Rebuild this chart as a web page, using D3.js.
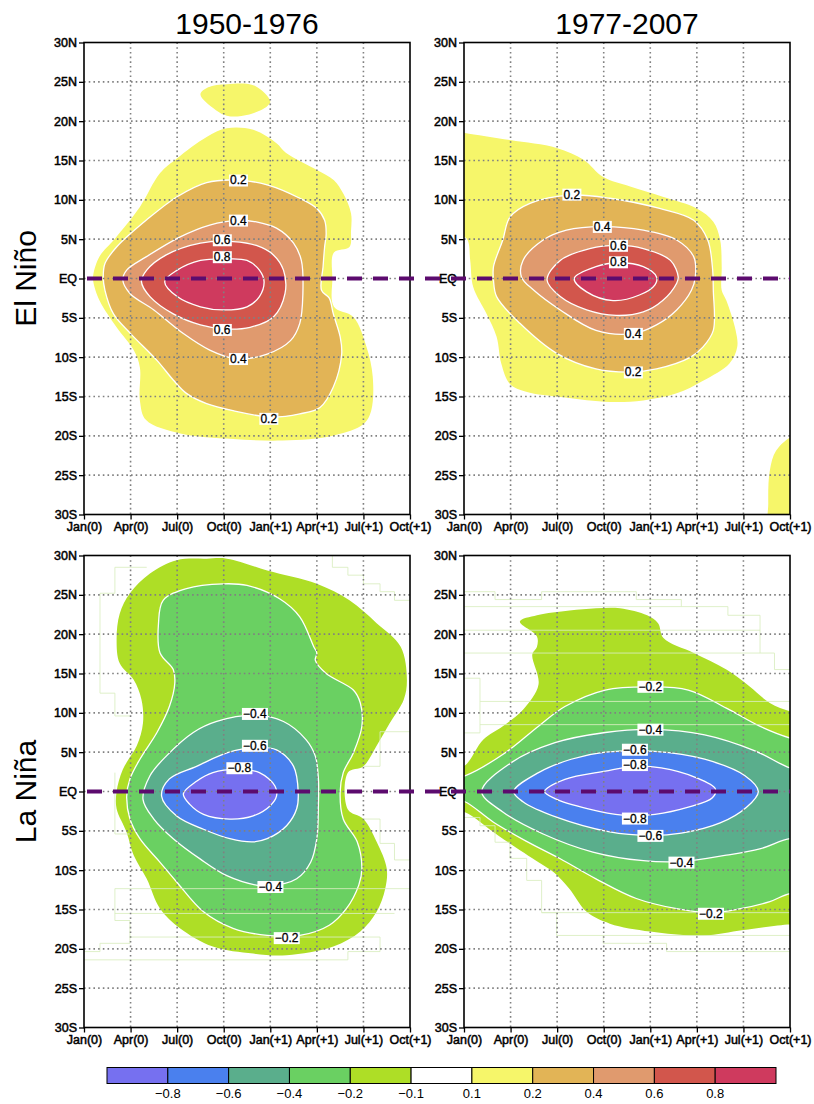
<!DOCTYPE html>
<html>
<head>
<meta charset="utf-8">
<script src="https://cdn.jsdelivr.net/npm/d3@7"></script>
<style>
  body { margin: 0; background: #fff; }
  svg { display: block; font-family: "Liberation Sans", Arial, sans-serif; }
</style>
</head>
<body>
<svg id="chart" width="814" height="1104"></svg>
<script>
// axes
const monthTicks = [0, 3, 6, 9, 12, 15, 18, 21];
const monthLabels = ["Jan(0)", "Apr(0)", "Jul(0)", "Oct(0)", "Jan(+1)", "Apr(+1)", "Jul(+1)", "Oct(+1)"];
const latTicks = [30, 25, 20, 15, 10, 5, 0, -5, -10, -15, -20, -25, -30];

// shading levels and colours
const levels = [-0.8, -0.6, -0.4, -0.2, -0.1, 0.1, 0.2, 0.4, 0.6, 0.8];
const shadeColors = ["#7670f0", "#4a80ee", "#5aae8c", "#6ad062", "#aede26", "#ffffff",
                     "#f6f66a", "#e2b456", "#e09a6e", "#d2564c", "#cf3a5e"];

// contour outlines, [month since Jan(0), latitude]
// El Nino 1950-1976
const tl01 = [[9.2,19.1],[10.9,18.9],[12.4,17.2],[13.0,16.0],[15.0,13.8],[16.1,12.5],[16.7,10.8],[17.2,8.3],
  [17.2,6.0],[17.1,4.0],[16.1,3.3],[16.0,0],[16.1,-3.6],[17.35,-4.9],[18.2,-8.7],[18.6,-12.5],[18.5,-16.8],
  [18.0,-18.5],[16.1,-19.95],[12.8,-20.6],[9.6,-20.4],[6.2,-19.7],[4.0,-18.0],[3.6,-15.5],[3.6,-11.3],[3.2,-9.1],
  [2.1,-6.2],[1.0,-2.8],[0.6,-0.4],[0.6,0.5],[1.0,2.8],[2.0,5.1],[3.6,9.1],[4.9,13.4],[6.0,15.3],[7.9,18.0]];
const tl01b = [[7.5,23.4],[8.0,24.3],[9.2,24.7],[11.0,24.5],[12.0,22.5],[11.8,21.9],[10.9,21.0],[9.9,20.6],[9.2,20.7],[8.5,21.4]];
const tl02 = [[9.9,12.5],[11.8,11.9],[13.9,10.2],[15.0,8.9],[15.5,7.4],[15.6,5.7],[15.5,4.0],[15.4,1.5],[15.3,-1.5],
  [15.8,-2.5],[16.06,-4.5],[16.5,-7.4],[16.6,-9.6],[16.06,-13.8],[15.2,-16.4],[13.9,-17.2],[12.0,-17.6],[9.6,-16.8],
  [7.9,-15.9],[6.6,-14.6],[5.75,-12.9],[4.7,-10.4],[3.0,-7.0],[1.9,-4.5],[1.35,-1.5],[1.24,0.2],[1.35,1.9],[2.1,4.0],
  [4.0,7.4],[6.0,10.4],[7.9,12.2]];
const tl04 = [[8.1,6.8],[9.9,7.4],[11.1,7.2],[12.4,6.4],[13.5,4.5],[14.0,2.3],[14.1,-1.9],[13.9,-5.7],[13.3,-7.9],
  [11.8,-9.6],[9.8,-10.2],[8.1,-9.1],[6.4,-7.0],[4.5,-4.0],[2.96,-1.9],[2.5,-0.2],[2.75,1.06],[4.0,2.75],[6.2,5.3]];
const tl06 = [[7.5,4.5],[9.6,4.7],[11.1,4.2],[12.2,3.0],[12.85,1.06],[12.95,-1.9],[12.2,-4.9],[10.7,-6.2],[8.97,-6.4],
  [7.5,-5.9],[5.75,-4.5],[4.25,-2.3],[3.7,-0.4],[4.04,1.06],[5.3,3.0]];
const tl08 = [[7.5,2.3],[9.2,2.5],[10.5,2.3],[11.3,1.06],[11.6,-0.4],[11.3,-2.3],[10.5,-3.6],[8.97,-4.0],[7.5,-3.6],
  [6.0,-2.3],[5.2,-0.4],[6.0,1.06]];
const tlLabels = [[9.94,12.5,"0.2"],[9.94,7.4,"0.4"],[8.9,4.9,"0.6"],[8.9,2.75,"0.8"],[8.9,-6.5,"0.6"],[9.94,-10.2,"0.4"],[11.9,-17.8,"0.2"]];

// El Nino 1977-2007
const tr01 = [[-0.6,18.7],[0.06,18.5],[2.96,17.6],[5.97,16.6],[7.7,15.1],[8.97,12.9],[10.7,11.7],[12.8,10.4],[15.0,8.9],
  [16.06,7.2],[16.5,4.9],[16.6,1.5],[16.6,-1.5],[16.9,-2.8],[17.5,-6.6],[17.6,-8.7],[17.1,-10.8],[15.4,-13.0],[13.7,-14.6],
  [11.55,-15.5],[9.4,-15.7],[6.4,-15.1],[4.0,-14.4],[2.96,-13.4],[2.4,-10.8],[2.1,-7.4],[1.46,-4.5],[0.6,-1.1],[0.4,2.3],
  [0.2,5.0],[-0.6,6.0]];
const tr01b = [[21.8,-19.6],[21.0,-20.2],[20.1,-21.9],[19.7,-24.4],[19.6,-28.6],[19.7,-31.5],[21.8,-31.5]];
const tr02 = [[6.94,10.6],[9.4,10.2],[12.6,8.9],[14.8,7.4],[15.7,4.9],[16.0,1.5],[16.06,-1.5],[16.06,-6.6],[15.4,-8.7],
  [14.6,-10.0],[12.4,-11.5],[10.7,-11.9],[8.5,-11.5],[6.0,-9.55],[3.6,-5.7],[2.1,-2.3],[1.9,-0.2],[1.9,1.5],[2.5,4.9],
  [2.96,7.8],[4.25,9.55]];
const tr04 = [[8.9,6.6],[11.55,6.15],[13.7,4.9],[14.8,2.75],[14.9,0.2],[14.65,-1.5],[13.7,-4.0],[12.4,-5.9],[10.9,-7.0],
  [8.5,-6.6],[6.2,-4.0],[4.5,-1.5],[3.7,0.2],[3.8,2.3],[5.1,4.9],[6.6,6.15]];
const tr06 = [[9.94,4.2],[11.55,3.8],[13.3,2.3],[13.8,0.2],[13.7,-0.6],[12.8,-2.8],[11.55,-4.25],[9.8,-4.7],[7.9,-4.0],
  [6.2,-2.3],[5.35,-0.2],[6.2,2.3],[8.1,3.8]];
const tr08 = [[9.94,2.0],[11.55,1.5],[12.4,0.2],[12.3,-0.8],[11.3,-2.1],[9.6,-2.8],[7.9,-1.7],[7.1,0],[8.5,1.5]];
const trLabels = [[6.94,10.7,"0.2"],[8.9,6.6,"0.4"],[9.94,4.2,"0.6"],[9.94,2.1,"0.8"],[10.9,-7.0,"0.4"],[10.9,-11.9,"0.2"]];

// La Nina 1950-1976
const bl01 = [[7.9,29.6],[9.2,29.6],[11.8,28.1],[15.0,26.4],[17.1,24.3],[18.85,21.4],[20.4,18.4],[20.8,14.2],[20.6,11.7],
  [19.7,8.7],[18.85,5.8],[18.0,3.2],[17.0,2.4],[17.0,-2.3],[18.0,-3.5],[18.85,-6.4],[19.5,-9.8],[19.4,-12.4],[18.85,-15.3],
  [17.8,-17.8],[16.06,-19.7],[13.05,-20.8],[10.9,-20.6],[8.3,-19.7],[6.2,-17.4],[4.9,-14.9],[4.04,-11.1],[3.2,-8.1],
  [2.75,-5.2],[2.1,-2.2],[2.1,0],[2.5,2.8],[3.4,5.8],[3.8,8.7],[3.7,11.7],[3.2,14.2],[2.3,16.3],[2.1,19.3],[2.3,22.6],
  [2.96,25.2],[4.25,27.7],[5.97,29.4]];
const bl02 = [[8.97,26.4],[10.5,26.2],[12.6,24.5],[13.9,22.2],[14.8,18.4],[15.0,17.6],[14.9,16.7],[15.6,15.0],[17.35,12.9],
  [17.8,11.25],[17.9,8.3],[17.35,4.9],[16.7,2.4],[16.5,-0.1],[16.7,-3.5],[17.6,-6.4],[17.9,-9.8],[17.7,-11.9],[16.9,-14.9],
  [15.8,-17.0],[13.9,-18.3],[11.8,-18.3],[9.6,-17.4],[7.7,-15.3],[5.97,-11.5],[4.9,-9.0],[3.6,-6.0],[2.96,-3.5],[2.75,-0.6],
  [2.96,1.6],[3.6,4.1],[4.7,7.5],[5.5,10.8],[5.85,13.8],[5.75,15.5],[4.9,17.6],[4.8,21.4],[5.1,24.3],[6.6,25.8]];
const bl04 = [[8.55,8.9],[11.0,9.7],[12.85,8.9],[14.3,6.6],[14.9,4.5],[15.1,1.6],[15.1,-1.7],[15.0,-6.0],[14.6,-9.0],
  [13.7,-11.1],[12.0,-12.0],[11.1,-11.9],[9.2,-10.7],[7.5,-8.6],[5.75,-6.0],[4.5,-3.5],[3.8,-1.0],[4.25,2.0],[5.3,4.5],[7.04,7.5]];
const bl06 = [[9.2,4.9],[11.0,5.6],[12.4,5.3],[13.5,3.2],[13.8,-0.1],[13.7,-2.2],[13.05,-4.35],[11.8,-6.0],[10.9,-6.4],
  [9.4,-6.0],[7.7,-4.8],[5.97,-3.1],[5.0,-0.6],[5.5,1.6],[7.25,3.2]];
const bl08 = [[8.3,2.4],[10.0,2.8],[11.3,2.4],[12.3,0.7],[12.4,-0.6],[12.0,-1.8],[10.9,-3.1],[9.4,-3.5],[7.7,-2.9],
  [6.8,-1.6],[6.4,-0.3],[7.25,1.3]];
const blLabels = [[11.0,9.9,"−0.4"],[11.0,5.85,"−0.6"],[10.0,3.0,"−0.8"],[12.0,-12.1,"−0.4"],[13.05,-18.6,"−0.2"]];
const blTraces = [
  [[4.04,28.5],[1.99,28.5],[1.99,25.2],[1.03,25.2],[1.03,12.5],[1.99,12.5],[1.99,9.6],[2.96,9.6]],
  [[1.99,2.4],[1.99,-5.4],[2.96,-5.4]],
  [[16.0,30],[16.0,28.5],[17.0,28.5],[17.0,27.5],[18.0,27.5],[18.0,26.4],[19.07,26.4],[19.07,25.4],[20.0,25.4],[20.0,24.3],[21,24.3]],
  [[18.0,3.2],[19.07,3.2],[19.07,7.6],[21,7.6]],
  [[18.0,-3.5],[19.07,-3.5],[19.07,-6.6],[20.0,-6.6],[20.0,-8.7],[21,-8.7]],
  [[1.99,-12.35],[21,-12.35]],
  [[1.99,-15.5],[20.0,-15.5]],
  [[2.96,-18.5],[19.07,-18.5]],
  [[0,-21.4],[17.0,-21.4],[17.0,-20.35],[19.07,-20.35],[19.07,-18.5]],
  [[0,-20.35],[1.03,-20.35],[1.03,-19.3],[2.96,-19.3],[2.96,-16.4],[1.99,-16.4],[1.99,-12.35]]
];

// La Nina 1977-2007
const br01 = [[-0.6,3.0],[0.06,3.3],[1.25,6.6],[2.5,8.3],[3.8,10.4],[4.8,13.6],[4.4,17.4],[4.7,18.4],[4.7,19.7],[3.6,21.6],
  [4.7,22.4],[6.8,23.0],[8.5,23.3],[10.05,23.3],[11.8,22.4],[12.5,21.4],[12.85,19.5],[14.8,17.6],[16.9,15.5],[18.4,13.35],
  [19.7,11.25],[21,10.2],[21.8,10.0],[21.8,-17.0],[21.0,-16.9],[18.0,-17.6],[15.4,-18.3],[12.0,-17.8],[9.4,-16.8],
  [7.9,-15.3],[6.8,-12.4],[5.8,-10.3],[4.8,-9.0],[2.2,-5.6],[0.06,-2.65],[-0.6,-2.5]];
const br02 = [[-0.6,1.8],[0.06,2.0],[2.64,4.9],[4.8,8.3],[6.5,10.8],[9.1,12.9],[12.0,13.3],[14.45,12.9],[16.9,10.6],
  [19.05,8.3],[21,6.8],[21.8,6.5],[21.8,-13.3],[21,-13.0],[19.7,-14.0],[17.8,-14.9],[15.9,-15.4],[13.7,-14.9],
  [11.1,-13.6],[8.5,-11.1],[6.2,-8.55],[4.0,-6.3],[1.9,-3.9],[0.06,-1.3],[-0.6,-1.1]];
const br04 = [[1.14,0],[3.07,3.7],[5.86,6.2],[9.1,7.5],[12.0,7.9],[15.5,7.2],[18.7,5.2],[21,3.0],[21.8,2.8],[21.8,-6.2],
  [21,-6.0],[19.05,-7.3],[16.9,-8.1],[14.0,-8.9],[11.55,-8.8],[8.3,-7.7],[5.1,-5.4],[2.5,-2.6]];
const br06 = [[3.2,0],[4.8,2.4],[6.9,4.1],[9.1,5.0],[12.3,5.1],[15.5,4.1],[18.1,2.0],[18.96,0],[18.2,-2.0],[16.5,-4.0],
  [14.0,-5.3],[12.0,-5.6],[9.3,-5.1],[6.0,-3.3],[3.8,-1.3]];
const br08 = [[5.2,0],[6.5,1.55],[9.1,2.6],[11.0,3.2],[12.7,3.0],[14.9,1.8],[16.2,0.3],[16.0,-0.8],[14.45,-2.0],
  [12.3,-2.9],[10.2,-3.0],[8.0,-2.2],[5.86,-0.9]];
const brLabels = [[12.0,13.35,"−0.2"],[12.0,7.9,"−0.4"],[11.0,5.35,"−0.6"],[11.0,3.4,"−0.8"],[11.0,-3.4,"−0.8"],
  [12.0,-5.6,"−0.6"],[14.0,-9.0,"−0.4"],[15.9,-15.5,"−0.2"]];
const brTraces = [
  [[0,25.4],[2.0,25.4],[2.0,24.4],[5.0,24.4],[5.0,25.4],[11.1,25.4],[11.1,24.4],[14.0,24.4],[14.0,23.5]],
  [[0,23.5],[17.0,23.5],[17.0,22.4],[19.07,22.4],[19.07,17.6]],
  [[0,20.5],[19.07,20.5]],
  [[0,17.6],[20.0,17.6],[20.0,15.5],[21,15.5]],
  [[0,14.4],[1.03,14.4],[1.03,7.45],[0,7.45]],
  [[1.03,11.45],[21,11.45]],
  [[1.03,8.5],[21,8.5]],
  [[0,-3.3],[1.03,-3.3],[1.03,-4.35],[2.0,-4.35],[2.0,-6.45],[2.96,-6.45],[2.96,-8.5],[4.04,-8.5],[4.04,-11.3],
   [5.0,-11.3],[5.0,-15.4],[5.97,-15.4],[5.97,-18.3],[21,-18.3]],
  [[8.97,-18.3],[8.97,-19.3],[13.05,-19.3],[13.05,-20.35],[21,-20.35]],
  [[5.0,-15.4],[21,-15.4]]
];

const panels = [
  { left: 84,  top: 42.5,  title: "1950-1976", fills: [[0.1, [tl01, tl01b]], [0.2, [tl02]], [0.4, [tl04]], [0.6, [tl06]], [0.8, [tl08]]], labels: tlLabels, traces: [] },
  { left: 464, top: 42.5,  title: "1977-2007", fills: [[0.1, [tr01, tr01b]], [0.2, [tr02]], [0.4, [tr04]], [0.6, [tr06]], [0.8, [tr08]]], labels: trLabels, traces: [] },
  { left: 84,  top: 555.5, fills: [[-0.1, [bl01]], [-0.2, [bl02]], [-0.4, [bl04]], [-0.6, [bl06]], [-0.8, [bl08]]], labels: blLabels, traces: blTraces },
  { left: 464, top: 555.5, fills: [[-0.1, [br01]], [-0.2, [br02]], [-0.4, [br04]], [-0.6, [br06]], [-0.8, [br08]]], labels: brLabels, traces: brTraces }
];

const W = 326, H = 472;
const svg = d3.select("#chart");
const color = d3.scaleThreshold().domain(levels).range(shadeColors);
const latLabel = d => d === 0 ? "EQ" : Math.abs(d) + (d > 0 ? "N" : "S");

panels.forEach((p, i) => {
  const x = d3.scaleLinear().domain([0, 21]).range([p.left, p.left + W]);
  const y = d3.scaleLinear().domain([30, -30]).range([p.top, p.top + H]);
  p.x = x; p.y = y;

  svg.append("clipPath").attr("id", "clip" + i)
    .append("rect").attr("x", p.left).attr("y", p.top).attr("width", W).attr("height", H);

  const g = svg.append("g").attr("clip-path", `url(#clip${i})`);

  const ring = d3.line().x(d => x(d[0])).y(d => y(d[1])).curve(d3.curveCatmullRomClosed.alpha(0.5));
  const trace = d3.line().x(d => x(d[0])).y(d => y(d[1]));

  // shaded contours, outermost first
  p.fills.forEach(([level, rings]) => {
    g.selectAll(null).data(rings).join("path")
      .attr("d", ring)
      .attr("fill", color(level > 0 ? level + 1e-3 : level - 1e-3))
      .attr("stroke", Math.abs(level) >= 0.2 ? "#fff" : "none")
      .attr("stroke-width", 1.3);
  });

  // faint staircase traces left by the shading
  g.selectAll(null).data(p.traces).join("path")
    .attr("d", trace)
    .attr("fill", "none")
    .attr("stroke", "#d9edbf")
    .attr("stroke-opacity", 0.85)
    .attr("stroke-width", 1);

  // dotted grid
  g.selectAll(null).data(monthTicks.slice(1, -1)).join("line")
    .attr("x1", d => x(d)).attr("x2", d => x(d))
    .attr("y1", p.top).attr("y2", p.top + H)
    .attr("stroke", "#808080").attr("stroke-width", 1.6).attr("stroke-dasharray", "1.6,3.1");
  g.selectAll(null).data(latTicks.slice(1, -1)).join("line")
    .attr("x1", p.left).attr("x2", p.left + W)
    .attr("y1", d => y(d)).attr("y2", d => y(d))
    .attr("stroke", "#808080").attr("stroke-width", 1.6).attr("stroke-dasharray", "1.6,3.1");

  // frame
  svg.append("rect").attr("x", p.left).attr("y", p.top).attr("width", W).attr("height", H)
    .attr("fill", "none").attr("stroke", "#000").attr("stroke-width", 1.6);

  // axes
  const ay = svg.append("g").attr("transform", `translate(${p.left},0)`)
    .call(d3.axisLeft(y).tickValues(latTicks).tickFormat(latLabel).tickSize(5).tickPadding(2));
  const ax = svg.append("g").attr("transform", `translate(0,${p.top + H})`)
    .call(d3.axisBottom(x).tickValues(monthTicks).tickFormat((d, k) => monthLabels[k]).tickSize(5).tickPadding(3));
  [ax, ay].forEach(a => {
    a.select(".domain").remove();
    a.selectAll(".tick line").attr("stroke", "#000").attr("stroke-width", 1.3);
    a.selectAll(".tick text")
      .attr("fill", "#000").attr("stroke", "#000").attr("stroke-width", 0.5)
      .style("font-family", "'Liberation Sans', Arial, sans-serif").style("font-size", "12.5px");
  });

  if (p.title) {
    svg.append("text").attr("x", x(10.5)).attr("y", 33.5)
      .attr("text-anchor", "middle").style("font-size", "30px").text(p.title);
  }
});

// dashed equator line across each row
[[panels[0], panels[1]], [panels[2], panels[3]]].forEach(([a, b]) => {
  svg.append("line")
    .attr("x1", a.x(0) + 3).attr("x2", b.x(21))
    .attr("y1", a.y(0)).attr("y2", a.y(0))
    .attr("stroke", "#5c0b6e").attr("stroke-width", 4)
    .attr("stroke-dasharray", "15,11");
});

// contour value labels
panels.forEach(p => {
  const lg = svg.append("g")
    .style("font-family", "'Liberation Sans', Arial, sans-serif")
    .style("font-size", "12px");
  p.labels.forEach(([m, lat, txt]) => {
    const t = lg.append("text")
      .attr("x", p.x(m)).attr("y", p.y(lat)).attr("dy", "0.36em")
      .attr("text-anchor", "middle").attr("fill", "#000")
      .attr("stroke", "#000").attr("stroke-width", 0.3).text(txt);
    const bb = t.node().getBBox();
    lg.insert("rect", () => t.node())
      .attr("x", bb.x - 1).attr("y", bb.y + 1).attr("width", bb.width + 2).attr("height", bb.height - 2)
      .attr("fill", "#fff");
  });
});

// row titles
[["El Niño", panels[0]], ["La Niña", panels[2]]].forEach(([txt, p]) => {
  svg.append("text")
    .attr("transform", `translate(36,${p.y(0)}) rotate(-90)`)
    .attr("text-anchor", "middle").style("font-size", "30px").text(txt);
});

// colour bar
const xb = d3.scaleLinear().domain([0, shadeColors.length]).range([107, 776]);
const bar = svg.append("g");
bar.selectAll("rect").data(shadeColors).join("rect")
  .attr("x", (d, i) => xb(i)).attr("y", 1067.5)
  .attr("width", (d, i) => xb(i + 1) - xb(i)).attr("height", 16)
  .attr("fill", d => d).attr("stroke", "#000").attr("stroke-width", 1);
bar.selectAll("text").data(levels).join("text")
  .attr("x", (d, i) => xb(i + 1)).attr("y", 1097.5)
  .attr("text-anchor", "middle").style("font-size", "13px")
  .text(d => (d < 0 ? "−" : "") + Math.abs(d).toFixed(1));
</script>
</body>
</html>
